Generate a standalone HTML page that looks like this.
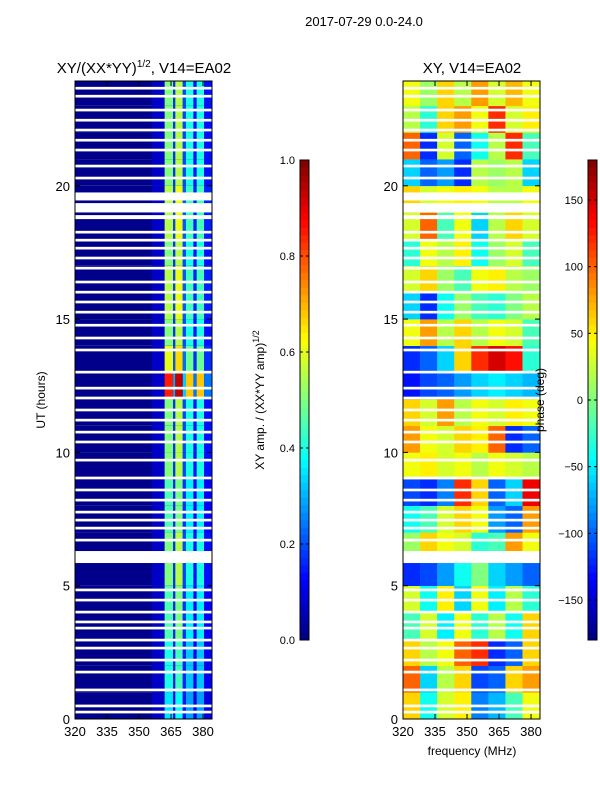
<!DOCTYPE html>
<html><head><meta charset="utf-8"><style>
body{margin:0;background:#fff;font-family:"Liberation Sans",sans-serif}
svg text{font-family:"Liberation Sans",sans-serif;fill:#000}
</style></head><body>
<svg id="c" width="600" height="800" xmlns="http://www.w3.org/2000/svg">
<text x="364" y="26" font-size="13" text-anchor="middle">2017-07-29 0.0-24.0</text>
<text x="144" y="73" font-size="15" text-anchor="middle">XY/(XX*YY)<tspan font-size="10" dy="-6">1/2</tspan><tspan dy="6">, V14=EA02</tspan></text>
<text x="472" y="73" font-size="15" text-anchor="middle">XY, V14=EA02</text>
<text x="472" y="755" font-size="12" text-anchor="middle">frequency (MHz)</text>
<text transform="translate(45,400) rotate(-90)" font-size="12" text-anchor="middle">UT (hours)</text>
<text transform="translate(264,400) rotate(-90)" font-size="12" text-anchor="middle">XY amp. / (XX*YY amp)<tspan font-size="9" dy="-5">1/2</tspan></text>
<g id="L"></g>
<g id="R"></g>
<g id="CB"></g>
<g id="AX"></g>
<text transform="translate(544,400) rotate(-90)" font-size="12" text-anchor="middle">phase (deg)</text>
</svg>
<script>
const ampHours=[0.35,0.4,0.4,0.45,0.45,0.5,0.5,0.45,0.45,0.5,0.5,0.5,0.85,0.6,0.5,0.55,0.55,0.5,0.55,0.55,0.5,0.5,0.5,0.5];
const ampColFactor=[1.0,1.1,0.8,0.8];
const ampColFreq=[[362,366],[367,370.5],[372,375.5],[377,380.5]];
const phaseRows=[
[60,-40,30,50,-90,-70,-20,40],
[100,-60,20,60,-110,-100,60,80],
[60,20,40,100,120,-120,-100,60],
[-20,30,-50,40,-30,20,-40,60],
[30,-40,50,-60,40,-50,20,-30],
[-120,-110,-80,-40,0,-60,-80,-100],
[10,60,40,30,-30,-20,80,40],
[-40,-20,30,60,40,-80,-100,80],
[-110,-120,-90,120,60,-100,-60,140],
[40,50,30,40,20,40,30,20],
[80,40,30,60,50,100,-120,-100],
[60,30,80,20,40,30,50,40],
[-130,-110,-100,-80,-60,-50,-60,-70],
[-120,-100,-60,60,120,150,130,-30],
[40,80,20,60,20,40,30,-20],
[-60,-120,-40,10,-20,-30,0,20],
[30,60,10,-20,40,50,20,10],
[-30,40,20,50,-40,10,30,-20],
[30,100,-20,40,-60,20,60,30],
[60,30,40,50,40,20,20,40],
[-60,-100,-80,-120,20,10,20,-60],
[100,-120,30,-100,-40,20,120,-20],
[20,-30,60,80,40,120,30,50],
[40,10,60,20,80,30,70,40]];
const flagTimes=[23.66,23.36,22.84,22.46,22.09,21.71,21.34,20.74,20.29,18.26,17.96,17.66,17.29,16.91,16.39,16.01,15.64,15.26,14.77,14.29,13.84,13.01,12.41,12.04,11.59,11.21,10.76,10.39,9.71,9.04,8.59,8.21,7.76,7.46,7.16,6.71,4.84,4.46,4.01,3.64,3.41,2.96,2.66,2.21,1.76,1.09,0.49,0.26];
const bigFlags=[[5.85,0.45],[19.0,0.35],[19.45,0.3],[18.75,0.15]];
const xTicks=[320,335,350,365,380];
const yTicks=[0,5,10,15,20];
const ampTicks=[0.0,0.2,0.4,0.6,0.8,1.0];
const phaseTicks=[-150,-100,-50,0,50,100,150];

const NS="http://www.w3.org/2000/svg";
function jet(v){v=Math.max(0,Math.min(1,v));
 const f=t=>Math.round(255*Math.max(0,Math.min(1,1.5-Math.abs(4*v-t))));
 return `rgb(${f(3)},${f(2)},${f(1)})`;}
function el(p,tag,a){const e=document.createElementNS(NS,tag);for(const k in a)e.setAttribute(k,a[k]);p.appendChild(e);return e;}
const T=81,B=719,F0=320,F1=384.2,H1=23.93;
const y=h=>B-(h/H1)*(B-T);
const x=(L,f)=>L+(f-F0)/(F1-F0)*137;

const gL=document.getElementById('L');
for(let h=0;h<24;h++){
 const y0=y(Math.min(h+1,H1)),y1=y(h);
 const r=el(gL,'rect',{x:75,y:y0,width:137,height:y1-y0,fill:jet(0.01)});
 
 
 const xs=x(75,356),xe=x(75,362);
 const r2=el(gL,'rect',{x:xs,y:y0,width:xe-xs,height:y1-y0,fill:jet(0.07)});
 
 
 for(let c=0;c<4;c++){
  const a=ampHours[h]*ampColFactor[c];
  const xa=x(75,ampColFreq[c][0]),xb=x(75,ampColFreq[c][1]);
  const cell=el(gL,'rect',{x:xa,y:y0,width:xb-xa,height:y1-y0,fill:jet(a)});
  
  
  const xc=c<3?x(75,ampColFreq[c+1][0]):212;
  const g=el(gL,'rect',{x:xb,y:y0,width:xc-xb,height:y1-y0,fill:jet(a*0.35)});
  
  
 }
}
const gR=document.getElementById('R');
for(let h=0;h<24;h++){
 const y0=y(Math.min(h+1,H1)),y1=y(h);
 for(let c=0;c<8;c++){
  const xa=x(403,F0+c*8),xb=x(403,Math.min(F0+(c+1)*8,F1));
  const cell=el(gR,'rect',{x:xa,y:y0,width:xb-xa+0.3,height:y1-y0+0.3,fill:jet((phaseRows[h][c]+180)/360)});
  
  
 }
}
for(const L of [75,403]){
 const g=document.getElementById(L==75?'L':'R');
 for(const t of flagTimes){const f=el(g,'rect',{x:L,y:y(t+0.05),width:137,height:y(t-0.05)-y(t+0.05),fill:'#fff'});
  }
 for(const b of bigFlags){const f=el(g,'rect',{x:L,y:y(b[0]+b[1]),width:137,height:y(b[0])-y(b[0]+b[1]),fill:'#fff'});
  }
}
const ax=document.getElementById('AX');
for(const L of [75,403]){
 const fr=el(ax,'rect',{x:L,y:T,width:137,height:B-T,fill:'none',stroke:'#000','stroke-width':1});
 
 for(const f of xTicks){const xx=x(L,f);
  el(ax,'line',{x1:xx,x2:xx,y1:B,y2:B-5,stroke:'#000'});el(ax,'line',{x1:xx,x2:xx,y1:T,y2:T+5,stroke:'#000'});
  const t=el(ax,'text',{x:xx,y:B+17,'font-size':13,'text-anchor':'middle'});t.textContent=f;
  }
 for(const h of yTicks){const yy=y(h);
  el(ax,'line',{x1:L,x2:L+5,y1:yy,y2:yy,stroke:'#000'});el(ax,'line',{x1:L+137,x2:L+132,y1:yy,y2:yy,stroke:'#000'});
  const t=el(ax,'text',{x:L-5,y:yy+5,'font-size':13,'text-anchor':'end'});t.textContent=h;
  }
}
const cb=document.getElementById('CB');
function colorbar(X,lo,hi,ticks,name){
 const n=64,h=480/n;
 for(let i=0;i<n;i++){const r=el(cb,'rect',{x:X,y:640-(i+1)*h,width:9,height:h+0.3,fill:jet((i+0.5)/n)});
  }
 el(cb,'rect',{x:X,y:160,width:9,height:480,fill:'none',stroke:'#000'});
 for(const v of ticks){const yy=640-(v-lo)/(hi-lo)*480;
  el(cb,'line',{x1:X,x2:X+3,y1:yy,y2:yy,stroke:'#000'});el(cb,'line',{x1:X+9,x2:X+6,y1:yy,y2:yy,stroke:'#000'});
  const t=el(cb,'text',{x:X-5,y:yy+4,'font-size':11,'text-anchor':'end'});t.textContent=name=='amp-colorbar'?v.toFixed(1):(v<0?'\u2212'+(-v):v);
  }
}
colorbar(300,0,1,ampTicks,'amp-colorbar');
colorbar(588,-180,180,phaseTicks,'phase-colorbar');
</script>
</body></html>
